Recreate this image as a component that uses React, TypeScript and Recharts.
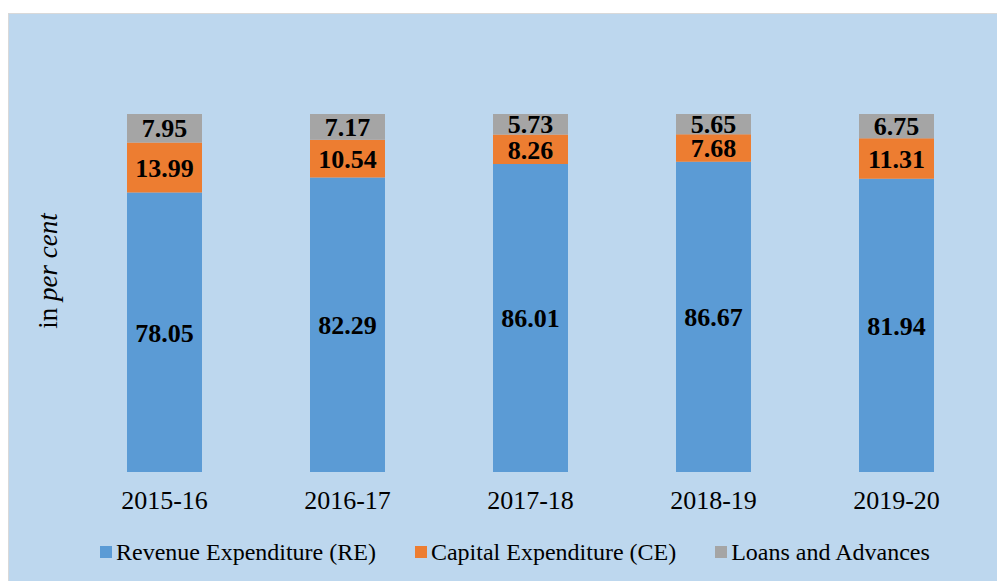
import { BarChart, Bar, XAxis, YAxis, Legend, LabelList } from 'recharts';

const years = ['2015-16', '2016-17', '2017-18', '2018-19', '2019-20'];
const revenueExp = [78.05, 82.29, 86.01, 86.67, 81.94];
const capitalExp = [13.99, 10.54, 8.26, 7.68, 11.31];
const loansAdv = [7.95, 7.17, 5.73, 5.65, 6.75];

const series = [
  { key: 're', name: 'Revenue Expenditure (RE)', color: '#5B9BD5' },
  { key: 'ce', name: 'Capital Expenditure (CE)', color: '#ED7D31' },
  { key: 'la', name: 'Loans and Advances', color: '#A5A5A5' },
];

const data = years.map((y, i) => ({
  year: y,
  re: revenueExp[i],
  ce: capitalExp[i],
  la: loansAdv[i],
}));

const serif = '"Liberation Serif", "Times New Roman", serif';

function YearTick(props: any) {
  const { x, y, payload } = props;
  return (
    <text x={x} y={y + 29} textAnchor="middle" fontFamily={serif} fontSize={26} fill="#000">
      {payload.value}
    </text>
  );
}

function LegendBox() {
  return (
    <div style={{ display: 'flex', height: 24, alignItems: 'center', fontFamily: serif, fontSize: 24, color: '#000', paddingLeft: 91, whiteSpace: 'nowrap' }}>
      {series.map((s) => (
        <div key={s.key} style={{ display: 'flex', alignItems: 'center', marginRight: 39 }}>
          <span style={{ display: 'inline-block', width: 12, height: 12, background: s.color, marginRight: 4 }} />
          <span>{s.name}</span>
        </div>
      ))}
    </div>
  );
}

export default function App() {
  return (
    <div style={{ marginTop: 5, width: 997, height: 568, background: '#BDD7EE', borderTop: '1px solid #d9d9d9', borderLeft: '1px solid #d9d9d9', boxSizing: 'border-box', position: 'relative' }}>
      <BarChart width={996} height={567} data={data} margin={{ top: 100, right: 17, left: 64, bottom: 45 }} barCategoryGap={54}>
        <XAxis dataKey="year" axisLine={false} tickLine={false} tick={<YearTick />} height={40} interval={0} />
        <YAxis hide domain={[0, 100]} />
        <Legend verticalAlign="bottom" align="left" content={<LegendBox />} wrapperStyle={{ bottom: 17, left: 0 }} />
        {series.map((s) => (
          <Bar key={s.key} dataKey={s.key} name={s.name} stackId="a" fill={s.color} isAnimationActive={false}>
            <LabelList
              dataKey={s.key}
              position="center"
              formatter={(v: any) => Number(v).toFixed(2)}
              style={{ fontFamily: serif, fontSize: 26, fontWeight: 'bold', fill: '#000' }}
            />
          </Bar>
        ))}
        <text x={39} y={257} transform="rotate(-90 39 257)" textAnchor="middle" dominantBaseline="central" fontFamily={serif} fontSize={27} fill="#000">
          in <tspan fontStyle="italic">per cent</tspan>
        </text>
      </BarChart>
    </div>
  );
}
